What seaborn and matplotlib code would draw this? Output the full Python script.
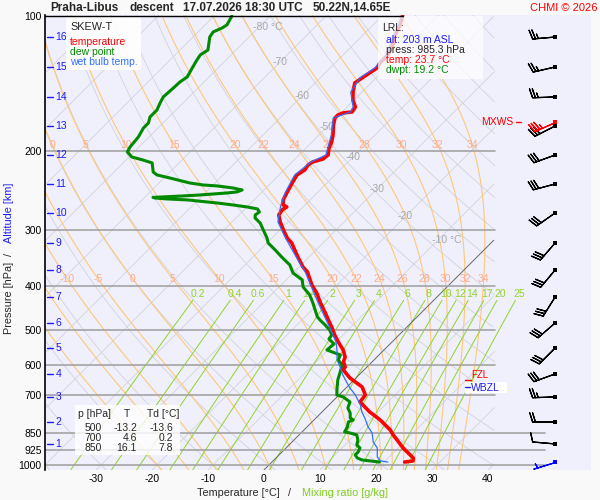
import numpy as np
import pandas as pd
import matplotlib
matplotlib.use("Agg")
import matplotlib.pyplot as plt
import seaborn as sns
from matplotlib.patches import Rectangle
from matplotlib.lines import Line2D

sns.set_theme(style="white")
plt.rcParams["font.family"] = ["Liberation Sans", "DejaVu Sans"]

# ---- sounding (pressure [hPa], temperature [deg C]) ----
temp_p = [100.0, 104.7, 110.2, 116.0, 122.1, 127.3, 130.6, 137.4, 141.0, 147.7,
          153.8, 159.5, 163.6, 164.4, 166.2, 168.7, 174.9, 184.1, 190.8, 196.8,
          204.0, 208.2, 211.4, 214.7, 220.3, 226.0, 234.3, 240.3, 247.9, 256.9,
          263.6, 266.3, 270.4, 277.5, 287.6, 299.6, 312.2, 320.3, 332.0, 344.1,
          362.3, 371.7, 397.3, 413.9, 433.5, 458.6, 475.4, 495.3, 513.4, 532.2,
          554.5, 574.7, 589.7, 605.0, 614.4, 640.1, 670.4, 698.4, 723.9, 762.0,
          793.9, 835.7, 857.4, 879.7, 916.6, 940.3, 964.8, 979.7, 985.3]
temp_t = [-56.3, -55.2, -54.3, -52.9, -52.0, -52.0, -51.6, -52.5, -52.9, -51.6,
          -50.2, -48.5, -48.2, -49.6, -50.2, -50.2, -49.2, -47.5, -46.5, -45.9,
          -44.8, -45.0, -46.3, -46.6, -46.3, -46.8, -46.3, -45.9, -45.4, -44.8,
          -43.9, -42.9, -43.2, -42.9, -41.4, -39.4, -37.3, -35.6, -33.8, -32.0,
          -29.3, -27.6, -24.5, -22.2, -20.0, -17.1, -15.3, -13.2, -11.5, -9.6,
          -7.3, -5.7, -5.1, -3.9, -3.7, -1.1, 2.7, 4.7, 5.0, 8.5,
          11.8, 15.4, 16.8, 18.4, 20.9, 22.7, 24.5, 25.0, 23.7]

dwpt_p = [100.0, 104.7, 106.3, 108.5, 111.4, 119.1, 122.1, 125.3, 130.6, 136.7,
          140.3, 144.7, 151.5, 156.2, 162.0, 167.9, 173.1, 177.6, 186.0, 195.8,
          200.8, 206.1, 209.3, 212.5, 222.6, 226.0, 229.5, 235.5, 237.9, 239.1,
          241.6, 244.1, 246.6, 247.9, 250.4, 251.7, 253.0, 253.6, 254.3, 255.6,
          256.9, 258.2, 260.9, 263.6, 266.3, 269.0, 273.2, 277.5, 281.8, 289.1,
          299.6, 312.2, 320.3, 332.0, 344.1, 358.6, 373.6, 387.3, 401.4, 418.2,
          435.7, 468.1, 475.4, 487.7, 500.4, 513.4, 524.1, 537.7, 554.5, 569.0,
          583.7, 598.8, 620.6, 646.7, 673.8, 698.4, 705.6, 723.9, 746.6, 765.9,
          785.8, 793.9, 802.1, 822.9, 844.3, 848.7, 857.4, 879.7, 902.5, 916.6,
          935.5, 950.0, 964.8, 974.7, 985.3]
dwpt_t = [-86.8, -86.1, -86.4, -87.3, -87.0, -85.0, -85.5, -85.2, -84.6, -83.9,
          -84.3, -84.4, -84.6, -84.1, -83.4, -83.4, -82.6, -82.6, -81.9, -81.6,
          -81.2, -79.5, -77.0, -74.8, -73.0, -71.8, -69.0, -64.5, -61.8, -59.1,
          -55.9, -53.9, -54.5, -56.1, -60.5, -63.4, -67.0, -68.5, -68.1, -65.7,
          -61.9, -60.0, -56.1, -52.9, -50.0, -47.8, -46.9, -47.1, -46.6, -44.8,
          -43.0, -40.9, -39.8, -37.3, -34.9, -32.0, -30.0, -27.1, -25.7, -23.1,
          -21.1, -17.8, -16.8, -15.0, -13.3, -12.0, -11.8, -10.0, -10.2, -6.9,
          -6.4, -4.8, -3.9, -2.9, -1.6, -0.4, 1.1, 3.2, 3.9, 5.2,
          6.1, 7.0, 6.5, 7.2, 7.6, 8.7, 10.3, 11.4, 12.1, 13.2,
          13.6, 13.6, 14.5, 15.7, 19.2]

wetb_p = [100.0, 110.2, 122.1, 130.6, 137.4, 147.7, 159.5, 163.6, 168.7, 184.1,
          204.0, 211.4, 226.0, 247.9, 263.6, 270.4, 287.6, 312.2, 344.1, 371.7,
          433.5, 495.3, 532.2, 554.5, 583.7, 605.0, 630.3, 656.8, 673.8, 698.4,
          735.1, 762.0, 785.8, 822.9, 848.7, 888.8, 916.6, 959.9, 979.7, 985.3]
wetb_t = [-56.3, -54.5, -52.3, -52.0, -52.9, -52.0, -48.9, -48.5, -50.5, -47.8,
          -45.2, -46.6, -47.2, -45.7, -44.3, -43.6, -41.8, -37.6, -32.3, -28.0,
          -20.4, -13.6, -10.0, -8.4, -6.6, -4.8, -2.9, -0.7, 0.7, 2.9,
          5.6, 7.1, 8.7, 10.9, 12.7, 14.5, 16.3, 17.9, 19.2, 20.7]

# altitude marks [km] and the pressure they sit at; winds are given at the same levels
alt_km = [16, 15, 14, 13, 12, 11, 10, 9, 8, 7, 6, 5, 4, 3, 2, 1]
alt_p = [111.4, 129.9, 151.5, 175.8, 204.0, 236.7, 274.6, 320.3, 367.9, 422.5,
         482.8, 548.8, 627.1, 705.6, 802.1, 898.0]
wind_dir = [265, 257, 268, 243, 250, 255, 235, 221, 220, 212, 229, 225, 250, 268, 270, 275]
wind_kt = [25, 25, 25, 30, 30, 30, 30, 30, 30, 30, 30, 30, 30, 25, 20, 10]
mxws_p, mxws_dir, mxws_kt = 172.2, 246, 35
sfc_p, sfc_dir, sfc_kt = 985.3, 253, 5
fzl_p, wbzl_p = 647.0, 663.0

table_p = ["500", "700", "850"]
table_t = ["-13.2", "4.6", "16.1"]
table_td = ["-13.6", "0.2", "7.8"]

iso_levels = [100, 200, 300, 400, 500, 600, 700, 850, 925, 1000]
temp_ticks = [-30, -20, -10, 0, 10, 20, 30, 40]
theta_w = [-20, -15, -10, -5, 0, 5, 10, 15, 20, 22, 24, 26, 28, 30, 32, 34]
mix_ratio = [0.2, 0.4, 0.6, 1, 1.4, 2, 3, 4, 6, 8, 10, 12, 14, 17, 20, 25]
mix_labels = ["0.2", "0.4", "0.6", "1", "1.4", "2", "3", "4", "6", "8",
              "10", "12", "14", "17", "20", "25"]
iso_lab_t = [-80, -70, -60, -50, -40, -30, -20, -10]
iso_lab_p = [105.8, 126.6, 151.0, 176.8, 206.0, 242.8, 279.6, 315.2]

# ---- diagram geometry ----
SKEW = 34.82
P_BOT, P_TOP = 1026.4, 99.5
X_MIN, X_MAX = -39.1, 58.4
X_CLIP = 41.25
X_LONG = 50.2
BARB_X = 52.0


def skew_x(t, p):
    return np.asarray(t, float) + SKEW * np.log(P_BOT / np.asarray(p, float))


def clip(x):
    x = np.array(x, float)
    x[x > X_CLIP] = np.nan
    return x


def dtdp(p, tk):
    tc = tk - 273.15
    es = 6.112 * np.exp(17.67 * tc / (tc + 243.5))
    rs = 0.622 * es / (p - es)
    return (287.04 * tk + 2.501e6 * rs) / (1005.7 + 2.501e6 ** 2 * rs * 0.622 / (287.04 * tk ** 2)) / p


def moist_adiabats(tw):
    t0 = np.asarray(tw, float) + 273.15
    parts = []
    for p_end, step in ((P_TOP - 2, -2.0), (P_BOT + 2, 2.0)):
        ps = np.arange(1000.0, p_end, step)
        t = t0.copy()
        ts = [t]
        for p in ps[:-1]:
            k1 = dtdp(p, t)
            k2 = dtdp(p + step / 2, t + step / 2 * k1)
            k3 = dtdp(p + step / 2, t + step / 2 * k2)
            k4 = dtdp(p + step, t + step * k3)
            t = t + step / 6 * (k1 + 2 * k2 + 2 * k3 + k4)
            ts.append(t)
        parts.append((ps, np.array(ts)))
    (up_p, up_t), (dn_p, dn_t) = parts
    p = np.concatenate([up_p[::-1], dn_p[1:]])
    t = np.concatenate([up_t[::-1], dn_t[1:]]) - 273.15
    return p, t


def mix_t(w, p):
    e = w * p / (622.0 + w)
    a = np.log(e / 6.112)
    return 243.5 * a / (17.67 - a)


def ftext(x, y, s, **kw):
    kw.setdefault("fontsize", 7.5)
    kw.setdefault("va", "center")
    fig.text(x / 600, 1 - y / 500, s, **kw)


def fbox(x0, y0, x1, y1, alpha):
    fig.add_artist(Rectangle((x0 / 600, 1 - y1 / 500), (x1 - x0) / 600, (y1 - y0) / 500,
                             transform=fig.transFigure, facecolor="white",
                             edgecolor="none", alpha=alpha, zorder=2))


def fline(x0, x1, y, color):
    fig.add_artist(Line2D([x0 / 600, x1 / 600], [1 - y / 500, 1 - y / 500],
                          transform=fig.transFigure, color=color, lw=1, zorder=3))


fig = plt.figure(figsize=(6, 5), dpi=100, facecolor="#f9f9f9")
ax = fig.add_axes([45 / 600, 30 / 500, 546 / 600, 455 / 500])
ax.set_facecolor("#f0f0fc")
ax.set_yscale("log")

# thermodynamic background
pp = np.geomspace(P_TOP, P_BOT, 300)
for t in range(-140, 50, 10):
    if t == 0:
        ax.plot(clip(skew_x(t, pp)), pp, color="#666666", lw=0.7, zorder=1.2)
    else:
        ax.plot(clip(skew_x(t, pp)), pp, color="#d2d2d8", lw=0.6, zorder=1)
for th in range(-40, 200, 10):
    td = (th + 273.15) * (pp / 1000.0) ** 0.2857 - 273.15
    ax.plot(clip(skew_x(td, pp)), pp, color="#d2d2d8", lw=0.6, zorder=1)

mp, mt = moist_adiabats(theta_w)
for j, tw in enumerate(theta_w):
    xs = skew_x(mt[:, j], mp)
    ax.plot(clip(xs), mp, color="#ffc77a", lw=0.8, zorder=1.1)
    for pl in (193.9, 385.0):
        xl = np.interp(np.log(pl), np.log(mp), xs)
        if X_MIN + 1.0 < xl < X_CLIP - 0.5:
            ax.text(xl, pl, str(tw), color="#ffaa88", fontsize=7.5,
                    ha="center", va="center", zorder=1.3)

pm = np.geomspace(430, P_BOT, 60)
for w, lab in zip(mix_ratio, mix_labels):
    ax.plot(skew_x(mix_t(w, pm), pm), pm, color="#8fd32a", lw=0.7, zorder=1.1)
    ax.text(skew_x(mix_t(w, 416.0), 416.0), 416.0, lab, color="#8fd32a",
            fontsize=7.5, ha="center", va="center", zorder=1.3)

for t, pl in zip(iso_lab_t, iso_lab_p):
    if t in (-80, -10):
        ax.text(skew_x(t, pl) - 1.1, pl, f"{t} °C", color="#a8a8a8", fontsize=7.5,
                ha="left", va="center", zorder=1.3)
    else:
        ax.text(skew_x(t, pl), pl, str(t), color="#a8a8a8", fontsize=7.5,
                ha="center", va="center", zorder=1.3)

# isobars
for p in iso_levels[1:]:
    x_end = X_LONG if p >= 850 else X_CLIP
    ax.plot([X_MIN, x_end], [p, p], color="#a4a4a4", lw=1.2, zorder=1.5)

# profiles
prof = [(dwpt_p, dwpt_t, "#008a00", 2.2),
        (temp_p, temp_t, "#ff0000", 2.6),
        (wetb_p, wetb_t, "#2f6fff", 0.9)]
for p, t, col, lw in prof:
    df = pd.DataFrame({"x": skew_x(t, p), "p": p})
    sns.lineplot(data=df, x="x", y="p", sort=False, estimator=None,
                 color=col, lw=lw, ax=ax, zorder=3)


# winds
def uv(d, k):
    r = np.deg2rad(np.asarray(d, float))
    k = np.asarray(k, float)
    return -k * np.sin(r), -k * np.cos(r)


BARB_LEN = 5.7
bx = np.full(len(alt_p), BARB_X)
u, v = uv(wind_dir, wind_kt)
ax.barbs(bx, alt_p, u, v, length=BARB_LEN, pivot="tip", color="black", linewidth=0.9, zorder=4)
ax.scatter(bx, alt_p, marker="s", s=7, color="black", linewidths=0, zorder=5)
u, v = uv([mxws_dir], [mxws_kt])
ax.barbs([BARB_X], [mxws_p], u, v, length=BARB_LEN, pivot="tip", color="red", linewidth=0.9, zorder=4)
ax.scatter([BARB_X], [mxws_p], marker="s", s=7, color="red", linewidths=0, zorder=5)
u, v = uv([sfc_dir], [sfc_kt])
ax.barbs([BARB_X], [sfc_p], u, v, length=BARB_LEN, pivot="tip", color="blue", linewidth=0.9, zorder=4)
ax.scatter([BARB_X], [sfc_p], marker="s", s=7, color="blue", linewidths=0, zorder=5)

# altitude marks
ytr = ax.get_yaxis_transform()
for km, p in zip(alt_km, alt_p):
    ax.plot([0.004, 0.015], [p, p], transform=ytr, color="#1c1cff", lw=1, zorder=4)
    ax.text(0.019, p, str(km), transform=ytr, color="#1c1cff", fontsize=7.5,
            ha="left", va="center", zorder=4)

ax.set_xlim(X_MIN, X_MAX)
ax.set_ylim(P_BOT, P_TOP)
ax.set_yticks(iso_levels)
ax.set_yticklabels([str(p) for p in iso_levels])
ax.yaxis.set_minor_locator(matplotlib.ticker.NullLocator())
ax.set_xticks(temp_ticks)
ax.set_xticklabels([str(t) for t in temp_ticks])
ax.tick_params(axis="both", length=0, labelsize=7.5, colors="black")
ax.tick_params(axis="y", pad=2.5)
ax.tick_params(axis="x", pad=3)
ax.set_xlabel("")
ax.set_ylabel("")
for s in ("top", "right", "bottom"):
    ax.spines[s].set_visible(False)
ax.spines["left"].set_color("black")
ax.spines["left"].set_linewidth(1.2)
fline(45, 403, 15.5, "black")

# level markers on the right
ax.text(0.858, mxws_p, "MXWS", transform=ytr, color="red", fontsize=7.5,
        ha="right", va="center", zorder=4)
ax.plot([0.863, 0.872], [mxws_p, mxws_p], transform=ytr, color="red", lw=1, zorder=4)
ax.plot([0.77, 0.78], [fzl_p, fzl_p], transform=ytr, color="red", lw=1, zorder=4)
ftext(471, 375.5, "FZL", color="red", fontsize=7)

# titles
ftext(50, 8, "Praha-Libus", fontsize=8.5, fontweight="bold")
ftext(130, 8, "descent", fontsize=8.5, fontweight="bold")
ftext(183, 8, "17.07.2026 18:30 UTC", fontsize=8.5, fontweight="bold")
ftext(313, 8, "50.22N,14.65E", fontsize=8.5, fontweight="bold")
ftext(597, 8, "CHMI © 2026", color="red", fontsize=8, ha="right")

# legend box
fbox(66, 17, 141, 70, 0.92)
ftext(70, 27, "SKEW-T", fontsize=7.8)
ftext(70, 42, "temperature", color="red")
ftext(70, 52, "dew point", color="#008a00")
ftext(70, 62, "wet bulb temp.", color="#2f6fff")

# lowest level box
fbox(378, 16, 483, 79, 0.72)
ftext(382, 28, "LRL:")
ftext(386, 40, "alt: 203 m ASL", color="#1c1cff")
ftext(386, 50, "press: 985.3 hPa")
ftext(386, 60, "temp: 23.7 °C", color="red")
ftext(386, 70, "dwpt: 19.2 °C", color="#008a00")

# table
fbox(75, 405, 180, 455, 0.82)
ftext(78, 414, "p [hPa]")
ftext(127, 414, "T", ha="center")
ftext(147, 414, "Td [°C]")
for i, (a, b, c) in enumerate(zip(table_p, table_t, table_td)):
    y = 428 + 10 * i
    ftext(102, y, a, ha="right")
    ftext(137, y, b, ha="right")
    ftext(173, y, c, ha="right")

# wet bulb zero level label
fbox(465, 382, 507, 393, 0.95)
fline(465, 470, 387, "#1c1cff")
ftext(471, 388, "WBZL", color="#1c1cff")

# axis titles
ftext(280, 493, "Temperature [°C]", ha="right", fontsize=7.8)
ftext(289, 493, "/", ha="center", fontsize=7.8)
ftext(302, 493, "Mixing ratio [g/kg]", color="#7ccc1c", ha="left", fontsize=7.8)
ftext(9, 298, "Pressure [hPa]", rotation=90, ha="center", fontsize=7.8)
ftext(9, 255, "/", rotation=90, ha="center", fontsize=7.8)
ftext(9, 213, "Altitude [km]", rotation=90, ha="center", color="#1c1cff", fontsize=7.8)

fig.savefig("out.png", dpi=100, facecolor=fig.get_facecolor())
